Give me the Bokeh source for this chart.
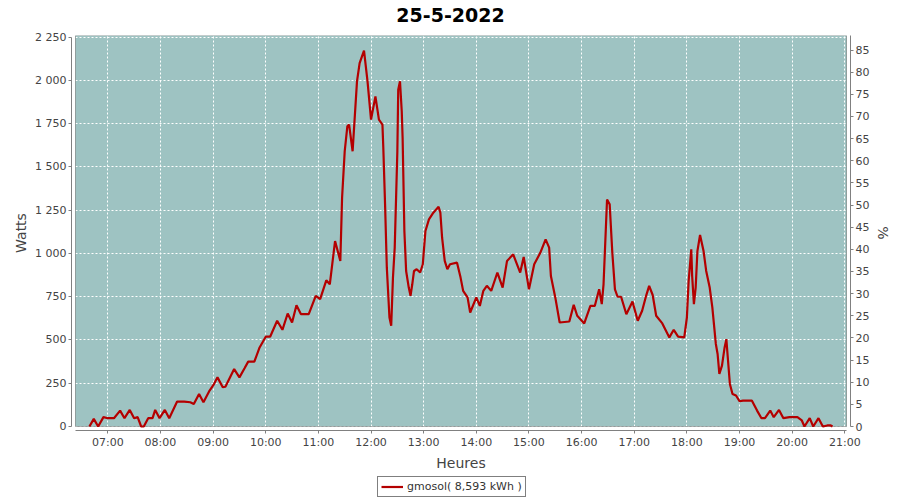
from bokeh.plotting import figure
from bokeh.layouts import column
from bokeh.models import (Range1d, LinearAxis, FixedTicker, BoxAnnotation, Legend, LegendItem, Label)
from bokeh.embed import file_html
from bokeh.resources import INLINE

title_text = "25-5-2022"
series_name = "gmosol( 8,593 kWh )"
times = ["06:39","06:44","06:49","06:55","07:00","07:07","07:14","07:19","07:25","07:30",
         "07:34","07:38","07:41","07:46","07:51","07:54","07:59","08:05","08:10","08:19",
         "08:27","08:34","08:38","08:44","08:49","08:56","09:01","09:05","09:11","09:14",
         "09:24","09:30","09:36","09:40","09:47","09:53","10:00","10:05","10:13","10:19",
         "10:25","10:30","10:35","10:40","10:49","10:57","11:02","11:09","11:13","11:19",
         "11:25","11:27","11:30","11:33","11:35","11:39","11:44","11:47","11:52","11:56",
         "12:00","12:05","12:09","12:13","12:14","12:16","12:18","12:21","12:23","12:25",
         "12:27","12:30","12:31","12:33","12:35","12:36","12:38","12:40","12:43","12:45",
         "12:47","12:49","12:52","12:56","12:59","13:02","13:06","13:11","13:17","13:19",
         "13:21","13:24","13:27","13:30","13:38","13:42","13:45","13:50","13:53","14:00",
         "14:04","14:08","14:12","14:17","14:24","14:30","14:35","14:42","14:50","14:54",
         "15:00","15:06","15:13","15:19","15:23","15:25","15:30","15:35","15:46","15:51",
         "15:55","16:03","16:10","16:15","16:20","16:23","16:25","16:29","16:32","16:35",
         "16:38","16:41","16:45","16:51","16:58","17:04","17:09","17:13","17:17","17:21",
         "17:25","17:32","17:40","17:45","17:50","17:57","18:00","18:02","18:05","18:06",
         "18:08","18:10","18:12","18:15","18:19","18:22","18:26","18:29","18:33","18:35",
         "18:37","18:40","18:43","18:45","18:46","18:49","18:52","18:56","19:00","19:04",
         "19:14","19:20","19:25","19:29","19:35","19:39","19:45","19:50","19:57","20:06",
         "20:11","20:14","20:20","20:24","20:30","20:35","20:40","20:44","20:46"]
watts = [0,44,0,54,48,48,92,48,96,48,
         54,0,0,48,48,96,48,96,48,144,
         144,140,130,188,140,208,245,284,227,230,
         332,284,338,375,375,457,519,519,611,559,
         653,601,701,650,650,755,736,845,822,1072,
         957,1322,1591,1735,1745,1591,1995,2100,2173,1995,
         1774,1908,1774,1745,1610,1284,918,630,582,862,
         1034,1591,1947,1995,1822,1668,1130,899,803,755,
         822,899,909,890,938,1130,1197,1236,1270,1236,
         1091,957,909,938,947,862,784,746,659,746,
         697,784,813,784,890,803,957,995,890,980,
         793,938,1005,1082,1034,870,746,601,607,703,
         640,596,697,697,793,707,822,1312,1284,1005,
         793,750,750,649,722,611,669,746,813,760,
         640,596,515,559,519,515,630,842,1024,870,
         707,803,1014,1107,1014,899,803,688,477,419,
         304,352,457,505,438,246,188,179,146,150,
         150,92,48,48,92,54,96,48,54,54,
         35,0,48,0,48,0,6,6,0]
watt_ticks = [0, 250, 500, 750, 1000, 1250, 1500, 1750, 2000, 2250]
pct_ticks = list(range(0, 90, 5))
hour_ticks = list(range(7, 22))
peak_watts = 2560.0   # 100 % on the right axis

x_hours = [int(t[:2]) + int(t[3:]) / 60.0 for t in times]

tick_font = "DejaVu Sans"
axis_col = "#808080"
line_col = "#b40000"
frame_left = 71   # frames of the column are aligned to the main chart's frame

# ---------- title strip ----------
p_top = figure(width=900, height=25, output_backend="svg", toolbar_location=None,
               x_axis_type=None, y_axis_type=None,
               x_range=Range1d(0, 1), y_range=Range1d(0, 1),
               min_border_left=0, min_border_right=0, min_border_top=0, min_border_bottom=0,
               background_fill_color="white", border_fill_color="white")
p_top.outline_line_color = None
p_top.add_layout(Label(x=450 - frame_left, y=11, x_units="screen", y_units="screen",
                       text=title_text, text_align="center", text_baseline="middle",
                       text_font="DejaVu Sans", text_font_size="19px",
                       text_font_style="bold", text_color="black"))

# ---------- main chart ----------
x0, x1 = 6.386, 21.032
y0, y1 = 0.0, 2260.0
px_per_h = 771.0 / (x1 - x0)
w_per_px = (y1 - y0) / 391.0
gap = 4

p = figure(width=900, height=448, output_backend="svg", toolbar_location=None,
           x_range=Range1d(x0 - gap / px_per_h, x1 + gap / px_per_h),
           y_range=Range1d(y0 - gap * w_per_px, y1),
           min_border_left=frame_left, min_border_right=50, min_border_top=10, min_border_bottom=43,
           background_fill_color="white", border_fill_color="white")
p.outline_line_color = None
p.extra_y_ranges = {"pct": Range1d((y0 - gap * w_per_px) / peak_watts * 100, y1 / peak_watts * 100)}

p.add_layout(BoxAnnotation(left=x0, right=x1, bottom=y0, top=y1, fill_color="#9ec3c2",
                           fill_alpha=1, line_color=None, level="image"))

xa = p.xaxis[0]
xa.ticker = FixedTicker(ticks=hour_ticks)
xa.major_label_overrides = {h: "%02d:00" % h for h in hour_ticks}
xa.bounds = (x0, x1)
xa.axis_label = "Heures"

ya = p.yaxis[0]
ya.ticker = FixedTicker(ticks=watt_ticks)
ya.major_label_overrides = {v: ("{:,}".format(v).replace(",", " ")) for v in watt_ticks}
ya.bounds = (y0, 2250)
ya.axis_label = "Watts"

ra = LinearAxis(y_range_name="pct", ticker=FixedTicker(ticks=pct_ticks), axis_label="%")
ra.bounds = (0, y1 / peak_watts * 100)
p.add_layout(ra, "right")

for ax in (xa, ya, ra):
    ax.axis_line_color = axis_col
    ax.major_tick_line_color = axis_col
    ax.major_tick_out = 3
    ax.major_tick_in = 0
    ax.minor_tick_line_color = None
    ax.major_label_text_font = tick_font
    ax.major_label_text_font_size = "11px"
    ax.major_label_text_color = "#444444"
    ax.axis_label_text_font = tick_font
    ax.axis_label_text_font_size = "14px"
    ax.axis_label_text_font_style = "normal"
    ax.axis_label_text_color = "#444444"
    ax.major_label_standoff = 2
ya.axis_label_standoff = 3
xa.axis_label_standoff = 3
ra.axis_label_standoff = 3

for g in (p.xgrid[0], p.ygrid[0]):
    g.grid_line_color = "white"
    g.grid_line_dash = "2 2"
    g.grid_line_width = 1
    g.level = "underlay"
p.xgrid[0].ticker = FixedTicker(ticks=hour_ticks)
p.ygrid[0].ticker = FixedTicker(ticks=watt_ticks)

p.add_layout(BoxAnnotation(left=x0, right=x1, bottom=y0, top=y1, fill_color=None,
                           line_color="black", line_width=1, level="underlay"))

r = p.line(x_hours, watts, line_color=line_col, line_width=2.2)

# ---------- legend strip (series drawn off-range, only its legend shows) ----------
p_leg = figure(width=900, height=27, output_backend="svg", toolbar_location=None,
               x_axis_type=None, y_axis_type=None,
               x_range=Range1d(0, 1), y_range=Range1d(-2, -1),
               min_border_left=0, min_border_right=0, min_border_top=0, min_border_bottom=0,
               background_fill_color="white", border_fill_color="white")
p_leg.outline_line_color = None
r_leg = p_leg.line(x_hours, watts, line_color=line_col, line_width=2.2)
leg = Legend(items=[LegendItem(label=series_name, renderers=[r_leg])],
             location=(377 - frame_left, 3), orientation="horizontal",
             border_line_color="black", border_line_width=1,
             background_fill_color="white", background_fill_alpha=1,
             label_text_font=tick_font, label_text_font_size="11px",
             label_text_color="#333333", glyph_width=22, glyph_height=13,
             label_standoff=4, padding=3, spacing=0, margin=0, label_height=13)
p_leg.add_layout(leg, "center")

layout = column(p_top, p, p_leg, spacing=0)
open("out.html", "w").write(file_html(layout, INLINE))
